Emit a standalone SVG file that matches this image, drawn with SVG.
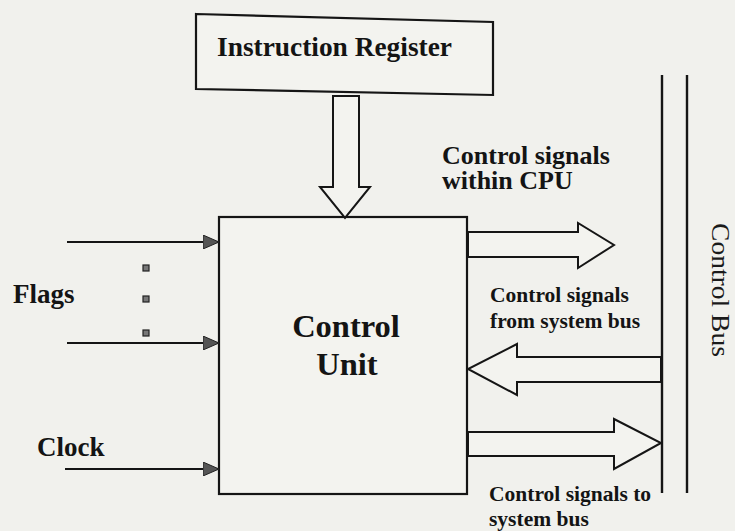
<svg xmlns="http://www.w3.org/2000/svg" width="735" height="531" viewBox="0 0 735 531">
  <defs>
    <style>
      .bg { fill: #f1f1ed; }
      .box { fill: #f3f3ef; stroke: #151515; stroke-width: 2.2; }
      .hollow { fill: #f3f3ef; stroke: #151515; stroke-width: 2; stroke-linejoin: miter; }
      .line { fill: none; stroke: #151515; stroke-width: 2; }
      .bus { fill: none; stroke: #151515; stroke-width: 2.4; }
      .dot { fill: #777; stroke: #222; stroke-width: 1.2; }
      .lbl { font-family: "Liberation Serif", "Times New Roman", serif; font-weight: bold; fill: #141414; }
      .reg { font-family: "Liberation Serif", "Times New Roman", serif; fill: #1a1a1a; }
    </style>
    <marker id="tri" viewBox="0 0 16 14" refX="16" refY="7" markerWidth="16" markerHeight="14" markerUnits="userSpaceOnUse" orient="auto">
      <path d="M0,0 L16,7 L0,14 Z" fill="#555" stroke="#222" stroke-width="1"/>
    </marker>
  </defs>

  <rect class="bg" x="0" y="0" width="735" height="531"/>

  <!-- Instruction register -->
  <g id="instruction-register">
    <polygon class="box" points="196,14 493,22 493,95 196,89"/>
    <text class="lbl" x="217" y="56" font-size="27" textLength="235" lengthAdjust="spacingAndGlyphs">Instruction Register</text>
  </g>

  <!-- Control unit -->
  <g id="control-unit">
    <rect class="box" x="219" y="217" width="248" height="277"/>
    <text class="lbl" x="346" y="337" font-size="32.5" text-anchor="middle">Control</text>
    <text class="lbl" x="347" y="375" font-size="32.5" text-anchor="middle">Unit</text>
  </g>

  <!-- Control bus -->
  <g id="control-bus">
    <line class="bus" x1="662" y1="75" x2="662" y2="493"/>
    <line class="bus" x1="687" y1="75" x2="687" y2="493"/>
    <text class="reg" x="0" y="0" font-size="26" text-anchor="middle" textLength="134" lengthAdjust="spacingAndGlyphs" transform="translate(712,290) rotate(90)">Control Bus</text>
  </g>

  <!-- Inputs -->
  <g id="flags">
    <text class="lbl" x="13" y="303" font-size="27">Flags</text>
    <rect class="dot" x="143" y="265" width="6" height="6"/>
    <rect class="dot" x="143" y="296" width="6" height="6"/>
    <rect class="dot" x="143" y="330" width="6" height="6"/>
  </g>
  <g id="clock">
    <text class="lbl" x="37" y="456" font-size="27">Clock</text>
  </g>

  <!-- Signal labels -->
  <g id="label-within-cpu">
    <text class="lbl" x="442" y="164" font-size="26">Control signals</text>
    <text class="lbl" x="442" y="189" font-size="26">within CPU</text>
  </g>
  <g id="label-from-bus">
    <text class="lbl" x="490" y="302" font-size="21.5">Control signals</text>
    <text class="lbl" x="490" y="328" font-size="21.5">from system bus</text>
  </g>
  <g id="label-to-bus">
    <text class="lbl" x="489" y="501" font-size="21.5">Control signals to</text>
    <text class="lbl" x="489" y="526" font-size="21.5">system bus</text>
  </g>

  <!-- Connectors -->
  <g id="connectors">
    <line class="line" x1="67" y1="242" x2="219" y2="242" marker-end="url(#tri)"/>
    <line class="line" x1="67" y1="343" x2="219" y2="343" marker-end="url(#tri)"/>
    <line class="line" x1="65" y1="469" x2="219" y2="469" marker-end="url(#tri)"/>
    <!-- instruction register to control unit -->
    <polygon class="hollow" points="333,96 333,187 320,187 345,218 370,187 359,187 359,96"/>
    <!-- control signals within CPU -->
    <polygon class="hollow" points="468,232 578,232 578,223 614,245 578,268 578,257 468,257"/>
    <!-- control signals from system bus -->
    <polygon class="hollow" points="661,357 517,357 517,344 468,369 517,395 517,382 661,382"/>
    <!-- control signals to system bus -->
    <polygon class="hollow" points="468,432 614,432 614,419 661,443 614,469 614,456 468,456"/>
  </g>
</svg>
